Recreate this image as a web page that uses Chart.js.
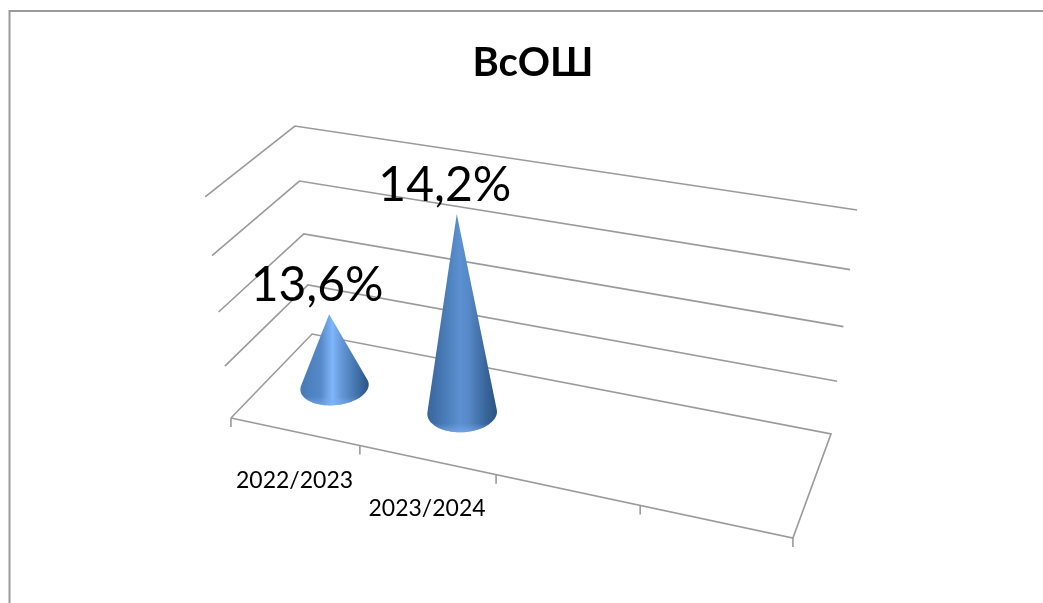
<!DOCTYPE html>
<html lang="ru">
<head>
<meta charset="utf-8">
<title>ВсОШ</title>
<script src="https://cdn.jsdelivr.net/npm/chart.js@4"></script>
<style>
    html, body { margin: 0; background: #fff; overflow: hidden; }
    #chart-box { position: relative; width: 1043px; height: 603px; }
</style>
</head>
<body>
<div id="chart-box"><canvas id="cone-chart"></canvas></div>
<script>
// Chart data
const categories = ['2022/2023', '2023/2024', '', ''];
const values = [13.6, 14.2, null, null];
const valueLabels = ['13,6%', '14,2%'];
const axisMin = 13.22;
const axisMax = 14.3;
const axisStep = 0.27;

// Cone shading, left to right across each cone
const coneStops = [0, 0.3, 0.47, 0.6, 0.84, 1];
const coneColors = [
    ['#467ab6', '#5689c8', '#80b6fa', '#6498d8', '#3f70a8', '#2c5480'],
    ['#38659b', '#4d80bd', '#5c90d0', '#5688c6', '#38659b', '#2c5480']
];

const LINE_COLOR = '#9a9a9a';
const CONE_DEPTH_RATIO = 3.3; // base circle radius along depth vs along the category axis

// Camera calibration: where the corners of the 3D box land on screen [u, w, v, x, y]
// u = along categories, w = depth, v = height
const boxCorners = [
    [0, 0, 0, 231, 418],
    [1, 0, 0, 793, 538],
    [0, 1, 0, 312, 334],
    [1, 1, 0, 831, 434],
    [0, 0, 1, 205, 197],
    [0, 1, 1, 295, 126],
    [1, 1, 1, 857, 210]
];

// Least squares fit of the perspective projection through the corners
function fitProjection(corners) {
    const rows = [];
    corners.forEach(([u, w, v, x, y]) => {
        const sx = x / 1000, sy = y / 1000;
        rows.push([u, w, v, 1, 0, 0, 0, 0, -sx * u, -sx * w, -sx * v, sx]);
        rows.push([0, 0, 0, 0, u, w, v, 1, -sy * u, -sy * w, -sy * v, sy]);
    });
    const n = 11;
    const m = [];
    for (let i = 0; i < n; i++) {
        m.push([]);
        for (let j = 0; j <= n; j++) {
            m[i].push(rows.reduce((sum, r) => sum + r[i] * r[j], 0));
        }
    }
    for (let i = 0; i < n; i++) {
        let pivot = i;
        for (let k = i + 1; k < n; k++) {
            if (Math.abs(m[k][i]) > Math.abs(m[pivot][i])) pivot = k;
        }
        [m[i], m[pivot]] = [m[pivot], m[i]];
        for (let k = 0; k < n; k++) {
            if (k === i) continue;
            const f = m[k][i] / m[i][i];
            for (let j = i; j <= n; j++) m[k][j] -= f * m[i][j];
        }
    }
    return m.map((row, i) => row[n] / row[i]);
}

const cam = fitProjection(boxCorners);

function project(u, w, v) {
    const d = cam[8] * u + cam[9] * w + cam[10] * v + 1;
    return {
        x: 1000 * (cam[0] * u + cam[1] * w + cam[2] * v + cam[3]) / d,
        y: 1000 * (cam[4] * u + cam[5] * w + cam[6] * v + cam[7]) / d
    };
}

function convexHull(points) {
    const pts = points.slice().sort((a, b) => a.x - b.x || a.y - b.y);
    const cross = (o, a, b) => (a.x - o.x) * (b.y - o.y) - (a.y - o.y) * (b.x - o.x);
    const half = (list) => {
        const out = [];
        list.forEach(p => {
            while (out.length > 1 && cross(out[out.length - 2], out[out.length - 1], p) <= 0) out.pop();
            out.push(p);
        });
        out.pop();
        return out;
    };
    return half(pts).concat(half(pts.slice().reverse()));
}

function strokePath(ctx, pts) {
    ctx.beginPath();
    pts.forEach((p, i) => i ? ctx.lineTo(p.x, p.y) : ctx.moveTo(p.x, p.y));
    ctx.stroke();
}

// Frame, walls, floor and axis ticks
function drawBox(chart) {
    const ctx = chart.ctx;
    const area = chart.chartArea;
    const xScale = chart.scales.x;
    const yScale = chart.scales.y;

    ctx.save();
    ctx.strokeStyle = LINE_COLOR;

    // Outer chart border, runs off the right and bottom of the picture
    ctx.lineWidth = 2;
    strokePath(ctx, [{ x: 9.5, y: chart.height + 2 }, { x: 9.5, y: 11 }, { x: chart.width + 2, y: 11 }]);
    ctx.lineWidth = 1.6;

    // Value gridlines on the side and back walls
    yScale.ticks.forEach(tick => {
        if (tick.value === axisMin) return;
        const v = (area.bottom - yScale.getPixelForValue(tick.value)) / area.height;
        strokePath(ctx, [project(0, 0, v), project(0, 1, v), project(1, 1, v)]);
    });

    // Floor
    strokePath(ctx, [project(0, 0, 0), project(0, 1, 0), project(1, 1, 0), project(1, 0, 0), project(0, 0, 0)]);

    // Category ticks on the front edge
    for (let i = 0; i <= categories.length; i++) {
        const px = i < categories.length ? xScale.getPixelForValue(i) - xScale.width / categories.length / 2 : area.right;
        const p = project((px - area.left) / area.width, 0, 0);
        strokePath(ctx, [p, { x: p.x, y: p.y + 9 }]);
    }
    ctx.restore();
}

function drawCone(chart, bar, index) {
    const ctx = chart.ctx;
    const area = chart.chartArea;
    const u = (bar.x - area.left) / area.width;
    const v = (area.bottom - bar.y) / area.height;
    const ru = bar.width / area.width / 2;
    const rw = ru * CONE_DEPTH_RATIO;

    const basePoints = [];
    for (let i = 0; i < 72; i++) {
        const a = i / 72 * Math.PI * 2;
        basePoints.push(project(u + ru * Math.cos(a), 0.5 + rw * Math.sin(a), 0));
    }
    const tip = project(u, 0.5, v);
    const hull = convexHull(basePoints.concat([tip]));
    const xs = hull.map(p => p.x);
    const ys = hull.map(p => p.y);
    const left = Math.min(...xs);
    const right = Math.max(...xs);
    const bottom = Math.max(...ys);

    const grad = ctx.createLinearGradient(left, 0, right, 0);
    coneStops.forEach((stop, i) => grad.addColorStop(stop, coneColors[index][i]));

    ctx.save();
    ctx.beginPath();
    hull.forEach((p, i) => i ? ctx.lineTo(p.x, p.y) : ctx.moveTo(p.x, p.y));
    ctx.closePath();
    ctx.fillStyle = grad;
    ctx.fill();

    // Lighter rim along the bottom of the base
    const rim = ctx.createLinearGradient(0, bottom - 9, 0, bottom);
    rim.addColorStop(0, 'rgba(125, 178, 245, 0)');
    rim.addColorStop(1, 'rgba(125, 178, 245, 0.6)');
    ctx.fillStyle = rim;
    ctx.fill();
    ctx.restore();

    // Value label over the tip
    ctx.save();
    ctx.fillStyle = '#000';
    ctx.font = '48px Lato, "Noto Sans", sans-serif';
    ctx.textAlign = 'center';
    ctx.textBaseline = 'alphabetic';
    ctx.fillText(valueLabels[index], tip.x - 12, tip.y - 13);
    ctx.restore();
}

function drawCategoryLabels(chart) {
    const ctx = chart.ctx;
    const area = chart.chartArea;
    const xScale = chart.scales.x;
    ctx.save();
    ctx.fillStyle = '#000';
    ctx.font = '23px Lato, "Noto Sans", sans-serif';
    ctx.textAlign = 'center';
    ctx.textBaseline = 'alphabetic';
    categories.forEach((label, i) => {
        if (!label) return;
        const p = project((xScale.getPixelForValue(i) - area.left) / area.width, 0, 0);
        ctx.fillText(label, p.x, p.y + 56);
    });
    ctx.restore();
}

const conePlugin = {
    id: 'cone3d',
    beforeDatasetsDraw(chart) {
        drawBox(chart);
    },
    afterDatasetsDraw(chart) {
        chart.getDatasetMeta(0).data.forEach((bar, i) => {
            if (values[i] !== null) drawCone(chart, bar, i);
        });
        drawCategoryLabels(chart);
    }
};

// Initialize Chart
const chart = new Chart(document.getElementById('cone-chart'), {
    type: 'bar',
    data: {
        labels: categories,
        datasets: [{
            label: 'ВсОШ',
            data: values,
            backgroundColor: 'rgba(0, 0, 0, 0)',
            barPercentage: 0.49,
            categoryPercentage: 1
        }]
    },
    options: {
        responsive: true,
        maintainAspectRatio: false,
        animation: false,
        layout: {
            padding: { left: 23, top: 29, right: 0, bottom: 40 }
        },
        scales: {
            x: { display: false },
            y: {
                display: false,
                min: axisMin,
                max: axisMax,
                ticks: { stepSize: axisStep }
            }
        },
        plugins: {
            legend: { display: false },
            tooltip: { enabled: false },
            title: {
                display: true,
                text: 'ВсОШ',
                color: '#000',
                font: { family: 'Lato, "Noto Sans", sans-serif', size: 40, weight: 'bold' },
                padding: { top: 10, bottom: 10 }
            }
        }
    },
    plugins: [conePlugin]
});
</script>
</body>
</html>
